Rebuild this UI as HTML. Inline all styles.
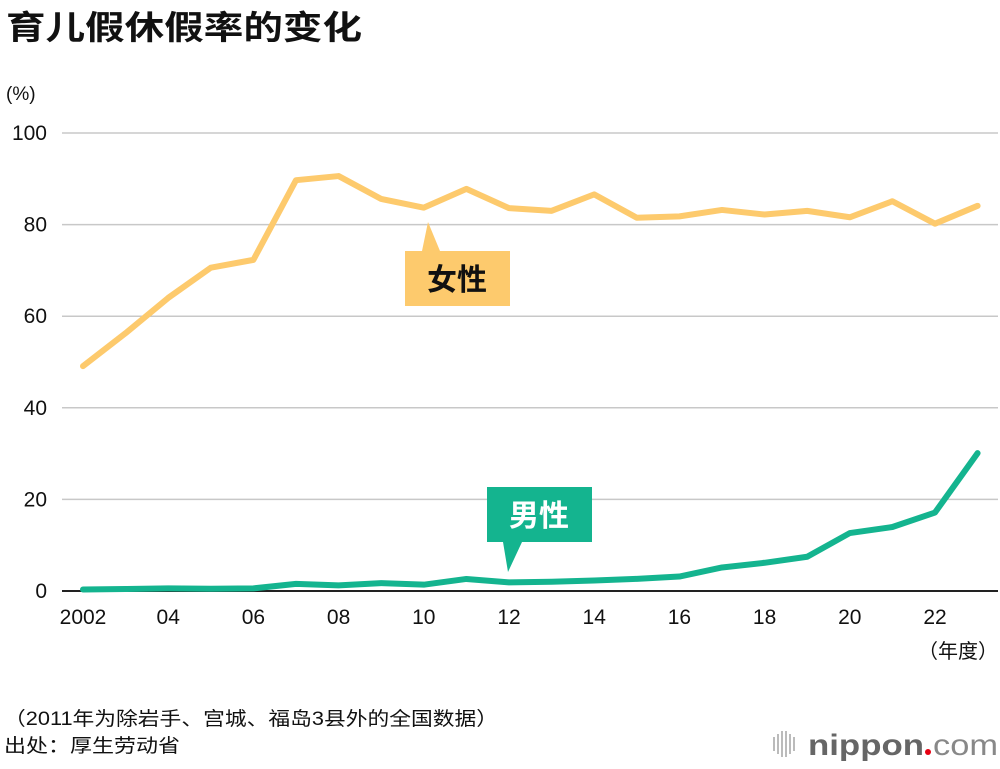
<!DOCTYPE html>
<html><head><meta charset="utf-8"><style>
body{margin:0;background:#fff;font-family:"Liberation Sans","Noto Sans CJK SC",sans-serif;}
svg text{font-family:"Liberation Sans","Noto Sans CJK SC",sans-serif;}
</style></head><body>
<svg id="c" width="1000" height="764" viewBox="0 0 1000 764">
<text x="6" y="39" font-size="33" font-weight="bold" fill="#111" textLength="356" lengthAdjust="spacingAndGlyphs">育儿假休假率的变化</text>
<text x="6" y="100" font-size="19" fill="#111">(%)</text>
<g id="grid"></g>
<g id="series"></g>
<g>
<path d="M405 251 H510 V306 H405 Z M422 251 L428 222 L440 251 Z" fill="#fdca6d"/>
<text x="457" y="290" font-size="30" font-weight="bold" text-anchor="middle" fill="#111">女性</text>
</g>
<g>
<path d="M487 487 H592 V542 H487 Z M503 542 L508 572 L522 542 Z" fill="#14b48f"/>
<text x="539" y="526" font-size="30" font-weight="bold" text-anchor="middle" fill="#fff">男性</text>
</g>
<text x="998" y="658" font-size="20" text-anchor="end" fill="#111">（年度）</text>
<text x="4" y="725" font-size="19" fill="#111" textLength="494" lengthAdjust="spacingAndGlyphs">（2011年为除岩手、宫城、福岛3县外的全国数据）</text>
<text x="4" y="752" font-size="19" fill="#111" textLength="176" lengthAdjust="spacingAndGlyphs">出处：厚生劳动省</text>
<g>
<g fill="#bbb"><rect x="773" y="737" width="2" height="14"/><rect x="777" y="734" width="2" height="20"/><rect x="781" y="731" width="2" height="26"/><rect x="785" y="731" width="2" height="26"/><rect x="789" y="734" width="2" height="20"/><rect x="793" y="737" width="2" height="14"/></g>
<text x="808" y="755" font-size="30" font-weight="bold" fill="#666" textLength="116" lengthAdjust="spacingAndGlyphs">nippon</text>
<circle cx="928" cy="752" r="3" fill="#e60012"/>
<text x="933" y="755" font-size="30" fill="#888" textLength="65" lengthAdjust="spacingAndGlyphs">com</text>
</g>
</svg>
<script>
const years=[2002,2003,2004,2005,2006,2007,2008,2009,2010,2011,2012,2013,2014,2015,2016,2017,2018,2019,2020,2021,2022,2023];
const female=[49.1,56.3,64.0,70.6,72.3,89.7,90.6,85.6,83.7,87.8,83.6,83.0,86.6,81.5,81.8,83.2,82.2,83.0,81.6,85.1,80.2,84.1];
const male=[0.33,0.44,0.56,0.50,0.57,1.56,1.23,1.72,1.38,2.63,1.89,2.03,2.30,2.65,3.16,5.14,6.16,7.48,12.65,13.97,17.13,30.1];
const yTicks=[0,20,40,60,80,100];
const xTickYears=[2002,2004,2006,2008,2010,2012,2014,2016,2018,2020,2022];
const xTickLabels=["2002","04","06","08","10","12","14","16","18","20","22"];
const NS="http://www.w3.org/2000/svg";
const X=y=>83+(y-2002)*42.6;
const Y=v=>591-v*4.58;
const grid=document.getElementById('grid'),ser=document.getElementById('series');
function mk(tag,attrs,parent){const e=document.createElementNS(NS,tag);for(const k in attrs)e.setAttribute(k,attrs[k]);parent.appendChild(e);return e;}
yTicks.forEach(t=>{
 const l=mk('line',{x1:62,x2:998,y1:Y(t),y2:Y(t),stroke:t===0?'#222':'#c8c8c8','stroke-width':t===0?2:1.5},grid);
 
 
 const tx=mk('text',{x:47,y:Y(t)+7,'font-size':21,'text-anchor':'end',fill:'#111'},grid);tx.textContent=t;
 
 
});
xTickYears.forEach((yr,i)=>{
 const tx=mk('text',{x:X(yr),y:624,'font-size':21,'text-anchor':'middle',fill:'#111'},grid);tx.textContent=xTickLabels[i];
 
 
});
function line(vals,color,name){
 const p=mk('polyline',{points:vals.map((v,i)=>X(years[i])+','+Y(v)).join(' '),fill:'none',stroke:color,'stroke-width':6,'stroke-linejoin':'round','stroke-linecap':'round'},ser);
 
 
}
line(female,'#fdca6d','female-line');
line(male,'#14b48f','male-line');
</script>
</body></html>
